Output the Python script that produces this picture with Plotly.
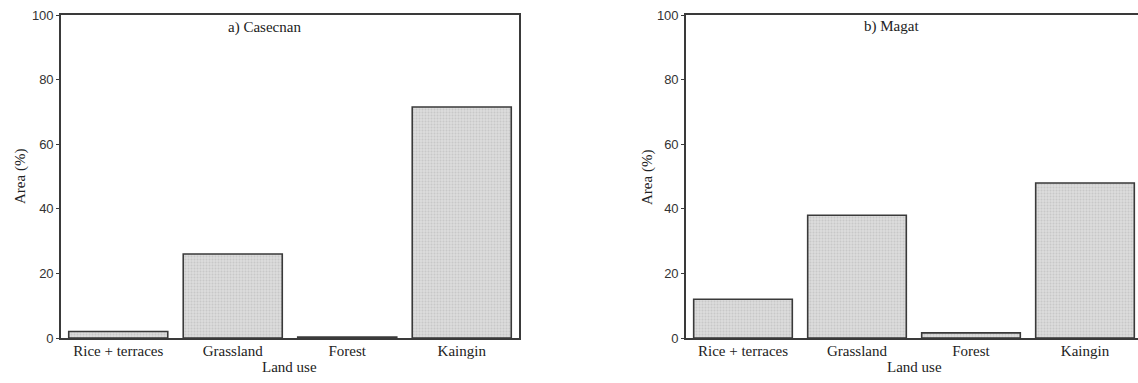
import plotly.graph_objects as go

categories = ["Rice + terraces", "Grassland", "Forest", "Kaingin"]
casecnan_area = [2.0, 26.0, 0.3, 71.5]
magat_area = [12.0, 38.0, 1.6, 48.0]
panel_titles = ["a) Casecnan", "b) Magat"]
y_ticks = [0, 20, 40, 60, 80, 100]
x_title = "Land use"
y_title = "Area (%)"

W, H = 1138, 383
serif = "Liberation Serif, Times New Roman, serif"
sans = "Liberation Sans, Arial, sans-serif"
line_col = "#3a3a3a"
txt_col = "#222"

fig = go.Figure()

bar_style = dict(
    marker=dict(
        color="#d6d6d6",
        line=dict(color=line_col, width=1.6),
        pattern=dict(shape=".", size=3, solidity=0.35, fgcolor="#b4b4b4", bgcolor="#dcdcdc"),
    ),
    showlegend=False,
)

fig.add_trace(go.Bar(x=categories, y=casecnan_area, xaxis="x", yaxis="y", **bar_style))
fig.add_trace(go.Bar(x=categories, y=magat_area, xaxis="x2", yaxis="y2", **bar_style))

ydom = [1 - 338 / H, 1 - 15 / H]

def xaxis(dom, rng, anchor):
    return dict(
        domain=dom, range=rng, anchor=anchor, automargin=False,
        showline=True, linecolor=line_col, linewidth=1.6, mirror=True,
        showgrid=False, zeroline=False, ticks="", ticklabelstandoff=-2,
        tickfont=dict(family=serif, size=15, color=txt_col),
        fixedrange=True,
    )

def yaxis(anchor, mirror):
    return dict(
        domain=ydom, range=[0, 100], anchor=anchor, automargin=False,
        tickvals=y_ticks, ticks="outside", ticklen=3, tickcolor=line_col,
        showline=True, linecolor=line_col, linewidth=1.6, mirror=mirror,
        showgrid=False, zeroline=False,
        tickfont=dict(family=sans, size=13, color="#333"),
        fixedrange=True,
    )

def ann(text, x, y, size=15, angle=0):
    return dict(text=text, x=x / W, y=1 - y / H, xref="paper", yref="paper",
                xanchor="center", yanchor="middle",
                showarrow=False, textangle=angle,
                font=dict(family=serif, size=size, color=txt_col))

fig.update_layout(
    width=W, height=H,
    margin=dict(l=0, r=0, t=0, b=0, pad=0),
    paper_bgcolor="white", plot_bgcolor="white",
    bargap=0.135,
    xaxis=xaxis([61 / W, 519 / W], [-0.5, 3.5], "y"),
    yaxis=yaxis("x", True),
    xaxis2=xaxis([686 / W, 1.0], [-0.5, 3.465], "y2"),
    yaxis2=yaxis("x2", False),
    annotations=[
        ann(panel_titles[0], 264, 27),
        ann(panel_titles[1], 891, 26),
        ann(x_title, 289, 367),
        ann(x_title, 914, 367),
        ann(y_title, 20, 177, angle=-90),
        ann(y_title, 647, 177, angle=-90),
    ],
)

fig.write_html("out.html", config={"displayModeBar": False},
               post_script="document.body.style.margin='0';")
